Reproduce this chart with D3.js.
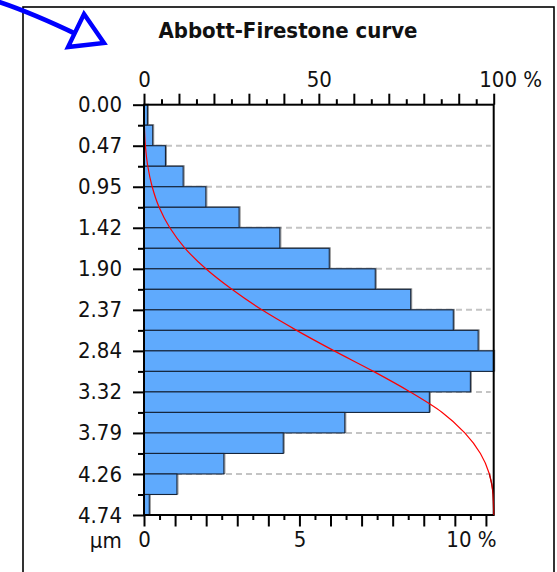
<!DOCTYPE html>
<html>
<head>
<meta charset="utf-8">
<script src="https://cdn.jsdelivr.net/npm/d3@7/dist/d3.min.js"></script>
<style>
  html, body { margin: 0; padding: 0; background: #fff; }
  svg { display: block; }
  text { font-family: "DejaVu Sans Condensed", "DejaVu Sans", sans-serif; font-stretch: condensed; fill: #111; }
</style>
</head>
<body>
<svg id="chart" width="557" height="572"></svg>
<script>
// Height distribution of the profile, in % of points per depth class (top to bottom)
const depthMax = 4.738;               // µm
const classShare = [0.11, 0.28, 0.69, 1.26, 1.99, 3.06, 4.37, 5.96, 7.44, 8.58,
                    9.95, 10.75, 11.25, 10.50, 9.18, 6.46, 4.48, 2.57, 1.06, 0.17];
const depthTickLabels = ["0.00", "0.47", "0.95", "1.42", "1.90", "2.37",
                         "2.84", "3.32", "3.79", "4.26", "4.74"];
const topTickLabels = { 0: "0", 50: "50", 100: "100 %" };
const bottomTickLabels = { 0: "0", 5: "5", 10: "10 %" };
const titleText = "Abbott-Firestone curve";
const unitText = "µm";

const svg = d3.select("#chart");
const plotLeft = 144, plotRight = 493.7, plotTop = 104.7, plotBottom = 515;
const nClass = classShare.length;
const binH = depthMax / nClass;
const labelSize = 22;

const y = d3.scaleLinear().domain([0, depthMax]).range([plotTop, plotBottom]);
const xShare = d3.scaleLinear().domain([0, d3.max(classShare)]).range([plotLeft, plotRight]);
const xCum = d3.scaleLinear().domain([0, 100]).range([plotLeft, plotRight]);

// outer frame
svg.append("rect").attr("x", 23).attr("y", 7).attr("width", 531).attr("height", 600)
  .attr("fill", "none").attr("stroke", "#000").attr("stroke-width", 1.6);

// pointer arrow in the corner
svg.append("path").attr("d", "M-4,1 Q30,12 78,35")
  .attr("fill", "none").attr("stroke", "#0000ff").attr("stroke-width", 4.8);
svg.append("path").attr("d", "M84,14 L104,43 L68,47 Z")
  .attr("fill", "#fff").attr("stroke", "#0000ff").attr("stroke-width", 4.4)
  .attr("stroke-linejoin", "miter");

// title
svg.append("text").attr("x", 288).attr("y", 37.5).attr("text-anchor", "middle")
  .attr("font-weight", "bold").attr("font-size", 22).text(titleText);

// dashed gridlines at the labelled depths
const majorDepths = d3.range(0, 11).map(i => i * depthMax / 10);
svg.append("g").selectAll("line").data(majorDepths.slice(1, -1)).join("line")
  .attr("x1", plotLeft + 2).attr("x2", plotRight - 3)
  .attr("y1", d => y(d)).attr("y2", d => y(d))
  .attr("stroke", "#c4c4c4").attr("stroke-width", 2).attr("stroke-dasharray", "6,4");

// histogram bars
const bars = svg.append("g");
bars.selectAll("rect.shadow").data(classShare).join("rect").attr("class", "shadow")
  .attr("x", plotLeft + 1).attr("y", (d, i) => y(i * binH) - 0.5)
  .attr("width", d => xShare(d) - plotLeft).attr("height", (d, i) => y((i + 1) * binH) - y(i * binH))
  .attr("fill", "none").attr("stroke", "#8a8a8a").attr("stroke-width", 1);
bars.selectAll("rect.bar").data(classShare).join("rect").attr("class", "bar")
  .attr("x", plotLeft).attr("y", (d, i) => y(i * binH))
  .attr("width", d => xShare(d) - plotLeft).attr("height", (d, i) => y((i + 1) * binH) - y(i * binH))
  .attr("fill", "#5faafd").attr("stroke", "#15243a").attr("stroke-width", 1.1);

// top axis: cumulative bearing ratio in %
const topAxis = d3.axisTop(xCum).tickValues(d3.range(0, 101, 5))
  .tickSize(11).tickPadding(7).tickFormat(d => topTickLabels[d] || "");
const gTop = svg.append("g").attr("transform", `translate(0,${plotTop})`).call(topAxis);
gTop.selectAll(".tick line").attr("y2", d => d % 10 === 0 ? -11 : -5.5);

// bottom axis: share of each depth class in %
const bottomAxis = d3.axisBottom(xShare).tickValues(d3.range(0, 11.01, 0.5))
  .tickSize(11.5).tickPadding(5).tickFormat(d => bottomTickLabels[d] || "");
const gBottom = svg.append("g").attr("transform", `translate(0,${plotBottom})`).call(bottomAxis);
gBottom.selectAll(".tick line").attr("y2", d => Number.isInteger(d) ? 11.5 : 5);

// left axis: depth in µm
const leftAxis = d3.axisLeft(y).tickValues(d3.range(0, nClass + 1).map(i => i * binH))
  .tickSize(11).tickPadding(11).tickFormat((d, i) => i % 2 === 0 ? depthTickLabels[i / 2] : "");
const gLeft = svg.append("g").attr("transform", `translate(${plotLeft},0)`).call(leftAxis);
gLeft.selectAll(".tick line").attr("x2", (d, i) => i % 2 === 0 ? -11 : -6);

[gTop, gBottom, gLeft].forEach(g => {
  g.select(".domain").remove();
  g.selectAll(".tick line").attr("stroke", "#000").attr("stroke-width", 2);
  g.selectAll(".tick text").attr("font-size", labelSize).attr("fill", "#111")
    .attr("font-family", "\"DejaVu Sans Condensed\", \"DejaVu Sans\", sans-serif");
});
// "100 %" and "10 %": number over the tick, unit to its right
gTop.selectAll(".tick text").filter(d => d === 100).attr("text-anchor", "start").attr("x", -15);
gBottom.selectAll(".tick text").filter(d => d === 10).attr("text-anchor", "start").attr("x", -9);

svg.append("text").attr("x", 121.7).attr("y", 548).attr("text-anchor", "end")
  .attr("font-size", labelSize).text(unitText);

// Abbott-Firestone curve: cumulative share vs depth
const total = d3.sum(classShare);
const cum = [0].concat(Array.from(d3.cumsum(classShare), v => v / total * 100));
const curve = d3.line().x(d => xCum(d)).y((d, i) => y(i * binH)).curve(d3.curveMonotoneY);
svg.append("path").datum(cum).attr("d", curve)
  .attr("fill", "none").attr("stroke", "#ff0000").attr("stroke-width", 1.2);

// plot frame
svg.append("rect").attr("x", plotLeft).attr("y", plotTop)
  .attr("width", plotRight - plotLeft).attr("height", plotBottom - plotTop)
  .attr("fill", "none").attr("stroke", "#000").attr("stroke-width", 2);
// where the curve runs along the right border it reads darker
svg.append("path").datum(cum.slice(-3)).attr("d", d3.line()
    .x(d => xCum(d)).y((d, i) => y((nClass - 2 + i) * binH)).curve(d3.curveMonotoneY))
  .attr("fill", "none").attr("stroke", "#b00000").attr("stroke-width", 1.2);
</script>
</body>
</html>
